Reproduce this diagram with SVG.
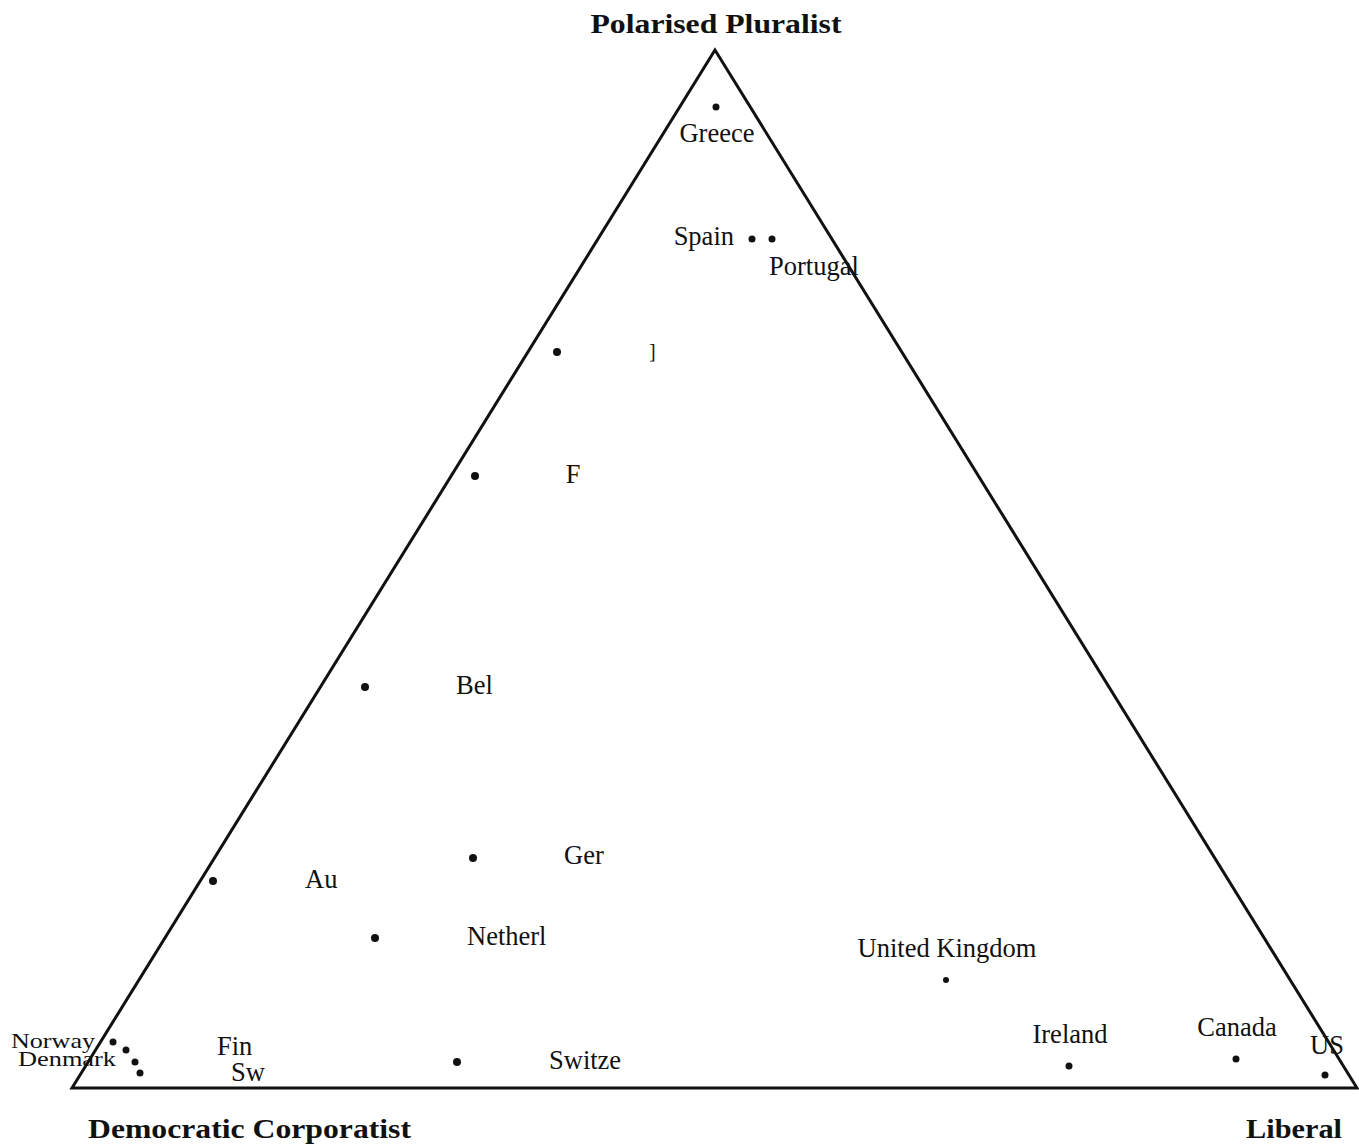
<svg xmlns="http://www.w3.org/2000/svg" width="1359" height="1144" viewBox="0 0 1359 1144">
<style>
.t{font-family:"Liberation Serif","Times New Roman",serif;font-size:26.5px;fill:#111}
.s{font-family:"Liberation Serif","Times New Roman",serif;font-size:22px;fill:#111}
.h{font-family:"Liberation Serif","Times New Roman",serif;font-size:28px;font-weight:bold;fill:#111}
.d{fill:#111}
</style>
<rect width="1359" height="1144" fill="#fff"/>
<g id="axes">
<polygon points="715,50 72,1088 1357,1088" fill="none" stroke="#111" stroke-width="3" stroke-linejoin="miter"/>
</g>
<g id="titles">
<text class="h" x="716" y="33" text-anchor="middle" textLength="251" lengthAdjust="spacingAndGlyphs">Polarised Pluralist</text>
<text class="h" x="88" y="1138" textLength="323" lengthAdjust="spacingAndGlyphs">Democratic Corporatist</text>
<text class="h" x="1246" y="1138" textLength="96" lengthAdjust="spacingAndGlyphs">Liberal</text>
</g>
<g id="points">
<g id="greece"><circle class="d" cx="716" cy="107" r="3.5"/><text class="t" x="717" y="142" text-anchor="middle">Greece</text></g>
<g id="spain"><circle class="d" cx="752" cy="239" r="3.5"/><text class="t" x="734" y="245" text-anchor="end">Spain</text></g>
<g id="portugal"><circle class="d" cx="772" cy="239" r="3.5"/><text class="t" x="769" y="275">Portugal</text></g>
<g id="italy"><circle class="d" cx="557" cy="352" r="4"/><text class="t" x="649" y="358" style="font-size:20px">]</text></g>
<g id="france"><circle class="d" cx="475" cy="476" r="4"/><text class="t" x="573" y="483" text-anchor="middle">F</text></g>
<g id="belgium"><circle class="d" cx="365" cy="687" r="4"/><text class="t" x="456" y="694">Bel</text></g>
<g id="germany"><circle class="d" cx="473" cy="858" r="4"/><text class="t" x="564" y="864">Ger</text></g>
<g id="austria"><circle class="d" cx="213" cy="881" r="4"/><text class="t" x="305" y="888">Au</text></g>
<g id="netherlands"><circle class="d" cx="375" cy="938" r="4"/><text class="t" x="467" y="945">Netherl</text></g>
<g id="uk"><circle class="d" cx="946" cy="980" r="3"/><text class="t" x="947" y="957" text-anchor="middle">United Kingdom</text></g>
<g id="ireland"><circle class="d" cx="1069" cy="1066" r="3.5"/><text class="t" x="1070" y="1043" text-anchor="middle">Ireland</text></g>
<g id="canada"><circle class="d" cx="1236" cy="1059" r="3.5"/><text class="t" x="1237" y="1036" text-anchor="middle">Canada</text></g>
<g id="us"><circle class="d" cx="1325" cy="1075" r="3.5"/><text class="t" x="1310" y="1054">US</text></g>
<g id="switzerland"><circle class="d" cx="457" cy="1062" r="4"/><text class="t" x="549" y="1069">Switze</text></g>
<g id="norway"><circle class="d" cx="113" cy="1042" r="3.5"/><text class="s" x="11" y="1048" textLength="84" lengthAdjust="spacingAndGlyphs">Norway</text></g>
<g id="denmark"><circle class="d" cx="126" cy="1050" r="3.5"/><text class="s" x="18" y="1066" textLength="98" lengthAdjust="spacingAndGlyphs">Denmark</text></g>
<g id="finland"><circle class="d" cx="135" cy="1062" r="3.5"/><text class="t" x="217" y="1055">Fin</text></g>
<g id="sweden"><circle class="d" cx="140" cy="1073" r="3.5"/><text class="t" x="231" y="1081">Sw</text></g>
</g>
</svg>
